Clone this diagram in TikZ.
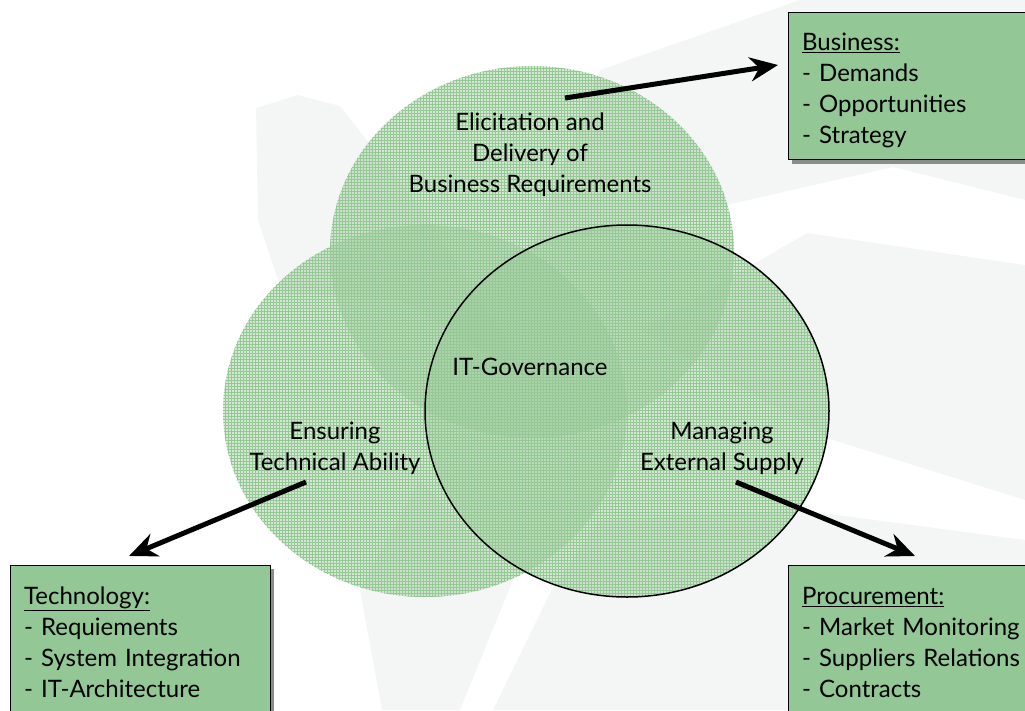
\documentclass[tikz,border=0pt]{standalone}
\usepackage{fontspec}
\setmainfont{Lato}
\usepackage{tikz}
\usetikzlibrary{arrows, arrows.meta, shadows, patterns}
\definecolor{ringgreen}{RGB}{150,200,150}
\definecolor{boxgreen}{RGB}{147,199,149}
\definecolor{wmgray}{RGB}{244,246,246}
\tikzstyle{ring} = [fill=ringgreen, fill opacity=0.42]
\tikzstyle{ringgrid} = [pattern=grid, pattern color=ringgreen, fill opacity=0.3]
\tikzstyle{label} = [align=center, font=\fontsize{24}{31}\selectfont]
\tikzstyle{infobox} = [rectangle, draw=black, fill=boxgreen, anchor=north west, align=left, text width=232pt, inner xsep=14pt, inner ysep=12pt, font=\fontsize{24}{31}\selectfont, drop shadow={shadow xshift=4pt, shadow yshift=-4pt, fill=black!45, opacity=1}]
\tikzstyle{arrow} = [line width=5pt, -{Stealth[length=28pt, width=24pt]}]

\begin{document}
\begin{tikzpicture}[x=1pt, y=-1pt]
\useasboundingbox (0,0) rectangle (1025,710);
% faint logo in the background
\fill[wmgray] (256,108) -- (298,95) -- (340,106) -- (430,220) -- (530,380) -- (400,300) -- (282,292) -- (258,220) -- cycle;
\fill[wmgray] (530,250) -- (600,70) -- (800,0) -- (1025,0) -- (1025,200) -- (893,167) -- cycle;
\fill[wmgray] (640,330) -- (807,233) -- (1025,265) -- (1025,500) -- (833,440) -- cycle;
\fill[wmgray] (600,520) -- (800,510) -- (1025,540) -- (1025,710) -- (493,710) -- (550,593) -- cycle;
\fill[wmgray] (420,480) -- (513,580) -- (460,710) -- (382,710) -- (360,590) -- cycle;

% the three circles
\fill[ring] (532,252) ellipse [x radius=202pt, y radius=186pt];
\fill[ring] (425,411) ellipse [x radius=202pt, y radius=186pt];
\fill[ring] (627,411) ellipse [x radius=202pt, y radius=186pt];
\fill[ringgrid] (532,252) ellipse [x radius=202pt, y radius=186pt];
\fill[ringgrid] (425,411) ellipse [x radius=202pt, y radius=186pt];
\fill[ringgrid] (627,411) ellipse [x radius=202pt, y radius=186pt];
\draw[line width=1.5pt] (627,411) ellipse [x radius=202pt, y radius=186pt];

\node (elic) [label] at (530,155) {Elicitation and\\Delivery of\\Business Requirements};
\node (gov) [label] at (530,367) {IT-Governance};
\node (tech) [label] at (335,448) {Ensuring\\Technical Ability};
\node (supply) [label] at (722,448) {Managing\\External Supply};

\node (bus) [infobox] at (788,12) {\rule{0pt}{26pt}\underline{Business:}\\- Demands\\- Opportunities\\- Strategy};
\node (techbox) [infobox] at (10,565) {\rule{0pt}{27pt}\underline{Technology:}\\- Requiements\\- System Integration\\- IT-Architecture\rule[-30pt]{0pt}{30pt}};
\node (proc) [infobox] at (788,565) {\rule{0pt}{27pt}\underline{Procurement:}\\- Market Monitoring\\- Suppliers Relations\\- Contracts\rule[-30pt]{0pt}{30pt}};

\coordinate (busfrom) at (565,98);
\coordinate (busto) at (778,65);
\coordinate (techfrom) at (306,482);
\coordinate (techto) at (129,556);
\coordinate (procfrom) at (736,482);
\coordinate (procto) at (915,556);
\draw [arrow] (busfrom) -- (busto);
\draw [arrow] (techfrom) -- (techto);
\draw [arrow] (procfrom) -- (procto);
\end{tikzpicture}
\end{document}
